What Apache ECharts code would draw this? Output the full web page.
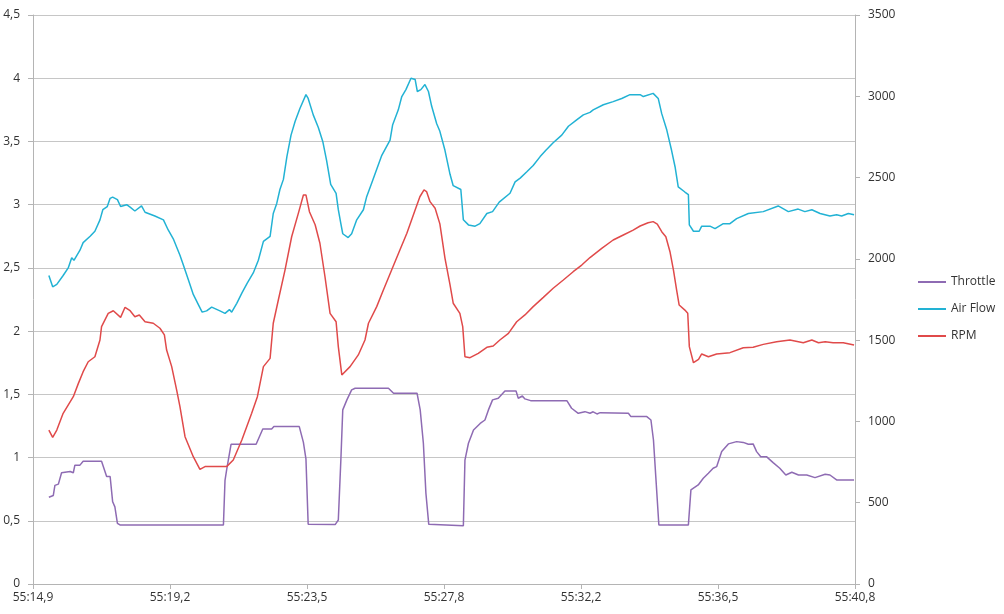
<!DOCTYPE html>
<html>
<head>
<meta charset="utf-8">
<script src="https://cdn.jsdelivr.net/npm/echarts@6/dist/echarts.min.js"></script>
<style>
html,body{margin:0;padding:0;background:#fff;}
#chart{width:1004px;height:614px;}
</style>
</head>
<body>
<div id="chart"></div>
<script>
// ---- data ----
const tickLabels = ['55:14,9','55:19,2','55:23,5','55:27,8','55:32,2','55:36,5','55:40,8'];
const timeStart = 14.9;
const timeEnd = 40.8;
const seriesNames = ['Throttle', 'Air Flow', 'RPM'];

const throttleTime = [15.40,15.44,15.54,15.59,15.70,15.80,16.07,16.12,16.17,16.22,16.38,16.48,17.06,17.22,17.33,17.41,17.48,17.56,17.64,20.90,20.95,21.00,21.14,21.93,22.14,22.42,22.49,23.29,23.42,23.50,23.57,24.42,24.52,24.60,24.66,24.79,24.94,25.05,26.10,26.26,27.00,27.10,27.20,27.28,27.37,28.46,28.51,28.62,28.78,28.99,29.14,29.25,29.38,29.56,29.77,30.12,30.19,30.32,30.40,30.58,31.72,31.87,32.08,32.29,32.45,32.55,32.67,32.77,33.66,33.74,34.24,34.37,34.45,34.53,34.62,35.55,35.63,35.86,36.02,36.18,36.33,36.44,36.60,36.81,37.07,37.28,37.44,37.59,37.70,37.83,38.01,38.22,38.43,38.62,38.81,39.02,39.28,39.54,39.86,40.01,40.22,40.77];
const throttleValues = [0.686,0.70,0.70,0.78,0.79,0.88,0.89,0.90,0.88,0.94,0.94,0.97,0.97,0.85,0.85,0.65,0.61,0.48,0.467,0.467,0.82,0.90,1.105,1.105,1.226,1.226,1.245,1.245,1.12,0.99,0.472,0.47,0.506,0.98,1.377,1.456,1.535,1.548,1.548,1.509,1.509,1.377,1.113,0.718,0.472,0.461,0.98,1.113,1.218,1.27,1.297,1.377,1.456,1.469,1.527,1.527,1.469,1.487,1.464,1.45,1.45,1.39,1.35,1.363,1.35,1.362,1.345,1.355,1.35,1.324,1.324,1.297,1.139,0.823,0.467,0.467,0.744,0.783,0.836,0.876,0.915,0.928,1.047,1.108,1.126,1.12,1.105,1.108,1.047,1.007,1.007,0.96,0.915,0.862,0.884,0.862,0.862,0.841,0.868,0.862,0.823,0.823];

const airFlowTime = [15.40,15.52,15.65,15.85,16.01,16.12,16.19,16.38,16.48,16.70,16.85,17.01,17.10,17.24,17.33,17.41,17.56,17.66,17.85,17.96,18.11,18.32,18.43,18.74,19.01,19.16,19.32,19.53,19.64,19.79,19.95,20.11,20.23,20.37,20.53,20.79,20.95,21.09,21.16,21.32,21.48,21.65,21.84,22.00,22.16,22.37,22.47,22.58,22.68,22.79,22.90,23.03,23.16,23.31,23.50,23.57,23.73,23.89,24.03,24.15,24.28,24.45,24.52,24.60,24.66,24.83,24.94,25.10,25.31,25.41,25.57,25.73,25.89,26.15,26.23,26.41,26.52,26.65,26.81,26.94,27.01,27.12,27.25,27.36,27.46,27.62,27.72,27.88,28.04,28.14,28.38,28.46,28.62,28.83,28.98,29.20,29.38,29.59,29.93,30.09,30.25,30.46,30.66,30.88,31.06,31.29,31.56,31.77,32.03,32.24,32.45,32.55,32.87,33.18,33.45,33.71,34.03,34.13,34.44,34.60,34.71,34.87,35.02,35.13,35.23,35.44,35.55,35.58,35.71,35.89,35.97,36.23,36.39,36.65,36.86,37.07,37.44,37.91,38.38,38.70,39.01,39.22,39.44,39.70,40.01,40.22,40.38,40.59,40.77];
const airFlowValues = [2.44,2.35,2.37,2.44,2.50,2.58,2.56,2.64,2.70,2.75,2.79,2.88,2.96,2.985,3.05,3.06,3.04,2.985,3.00,2.98,2.95,2.99,2.94,2.91,2.88,2.80,2.73,2.60,2.52,2.41,2.29,2.21,2.15,2.16,2.19,2.16,2.14,2.17,2.15,2.22,2.30,2.38,2.46,2.56,2.71,2.75,2.93,3.01,3.12,3.20,3.38,3.55,3.66,3.76,3.87,3.84,3.71,3.61,3.50,3.35,3.16,3.09,2.96,2.85,2.77,2.74,2.77,2.88,2.96,3.06,3.17,3.28,3.39,3.51,3.63,3.75,3.855,3.91,4.00,3.99,3.895,3.91,3.95,3.895,3.78,3.64,3.58,3.43,3.24,3.15,3.12,2.88,2.84,2.83,2.85,2.93,2.945,3.02,3.09,3.18,3.21,3.26,3.31,3.38,3.43,3.49,3.55,3.62,3.67,3.71,3.73,3.75,3.79,3.815,3.84,3.87,3.87,3.855,3.88,3.84,3.72,3.59,3.43,3.30,3.14,3.10,3.08,2.84,2.79,2.79,2.83,2.83,2.81,2.85,2.85,2.89,2.93,2.945,2.99,2.945,2.965,2.945,2.96,2.93,2.91,2.92,2.91,2.93,2.92];

const rpmTime = [15.40,15.52,15.65,15.85,16.17,16.33,16.48,16.64,16.85,17.01,17.06,17.27,17.43,17.66,17.80,17.96,18.11,18.25,18.43,18.69,18.90,19.04,19.11,19.27,19.43,19.53,19.69,19.95,20.16,20.32,21.00,21.21,21.48,21.79,21.97,22.16,22.37,22.47,22.63,22.84,23.05,23.26,23.42,23.50,23.61,23.79,23.94,24.10,24.26,24.45,24.52,24.63,24.89,25.15,25.36,25.47,25.73,25.94,26.20,26.46,26.68,26.94,27.09,27.22,27.30,27.41,27.57,27.72,27.88,28.04,28.14,28.35,28.44,28.51,28.67,28.93,29.20,29.40,29.61,29.88,30.14,30.40,30.66,30.98,31.29,31.61,31.92,32.19,32.45,32.82,33.18,33.50,33.81,34.03,34.28,34.44,34.57,34.71,34.84,34.97,35.08,35.18,35.26,35.44,35.53,35.58,35.71,35.87,35.97,36.18,36.44,36.86,37.28,37.59,37.91,38.33,38.75,39.17,39.44,39.65,39.86,40.11,40.43,40.77];
const rpmValues = [947,902,947,1050,1152,1234,1306,1367,1398,1501,1583,1665,1681,1640,1702,1681,1644,1655,1613,1604,1573,1532,1439,1337,1190,1091,906,783,705,722,722,763,886,1050,1152,1337,1388,1604,1747,1931,2136,2280,2393,2393,2290,2210,2096,1890,1665,1613,1460,1286,1337,1409,1501,1604,1706,1808,1931,2054,2157,2300,2382,2424,2414,2352,2311,2215,2005,1840,1727,1665,1583,1398,1392,1419,1456,1464,1501,1542,1613,1655,1706,1763,1819,1870,1921,1962,2008,2065,2116,2147,2177,2202,2222,2229,2214,2167,2136,2044,1931,1808,1716,1685,1665,1460,1361,1382,1415,1398,1415,1423,1453,1456,1474,1490,1501,1484,1501,1484,1490,1484,1484,1470];

// ---- chart ----
const pairs = (ts, vs) => ts.map((t, i) => [t - timeStart, vs[i]]);
const span = timeEnd - timeStart;
const step = span / (tickLabels.length - 1);
const textColor = '#333333';
const lineGray = '#c6c6c6';
const axisGray = '#b4b4b4';
const font = 'Open Sans';

const chart = echarts.init(document.getElementById('chart'), null, {renderer: 'canvas'});
chart.setOption({
  animation: false,
  backgroundColor: '#ffffff',
  grid: {left: 33, right: 149, top: 15, bottom: 30, containLabel: false},
  legend: {
    orient: 'vertical',
    left: 913,
    top: 271,
    itemWidth: 28,
    itemHeight: 2,
    itemGap: 15,
    icon: 'rect',
    textStyle: {color: textColor, fontFamily: font, fontSize: 12},
    data: seriesNames
  },
  xAxis: {
    type: 'value',
    min: 0,
    max: span,
    interval: step,
    axisLine: {show: true, lineStyle: {color: axisGray, width: 1}},
    axisTick: {show: true, inside: false, length: 5, lineStyle: {color: axisGray}},
    splitLine: {show: false},
    axisLabel: {
      color: textColor, fontFamily: font, fontSize: 12, margin: 8,
      showMinLabel: true, showMaxLabel: true,
      formatter: v => tickLabels[Math.round(v / step)] || ''
    }
  },
  yAxis: [
    {
      type: 'value', min: 0, max: 4.5, interval: 0.5, position: 'left',
      axisLine: {show: true, lineStyle: {color: axisGray, width: 1}},
      axisTick: {show: true, inside: false, length: 5, lineStyle: {color: axisGray}},
      splitLine: {show: true, lineStyle: {color: lineGray, width: 1}},
      axisLabel: {
        color: textColor, fontFamily: font, fontSize: 12, margin: 13,
        formatter: v => String(Math.round(v * 10) / 10).replace('.', ',')
      }
    },
    {
      type: 'value', min: 0, max: 3500, interval: 500, position: 'right',
      axisLine: {show: true, lineStyle: {color: axisGray, width: 1}},
      axisTick: {show: true, inside: false, length: 5, lineStyle: {color: axisGray}},
      splitLine: {show: false},
      axisLabel: {
        color: textColor, fontFamily: font, fontSize: 12, margin: 13,
        formatter: v => String(Math.round(v))
      }
    }
  ],
  series: [
    {
      name: seriesNames[0], type: 'line', yAxisIndex: 0, showSymbol: false, symbol: 'none',
      lineStyle: {color: '#8e6bb3', width: 1.5}, itemStyle: {color: '#8e6bb3'},
      data: pairs(throttleTime, throttleValues)
    },
    {
      name: seriesNames[1], type: 'line', yAxisIndex: 0, showSymbol: false, symbol: 'none',
      lineStyle: {color: '#22b2d4', width: 1.5}, itemStyle: {color: '#22b2d4'},
      data: pairs(airFlowTime, airFlowValues)
    },
    {
      name: seriesNames[2], type: 'line', yAxisIndex: 1, showSymbol: false, symbol: 'none',
      lineStyle: {color: '#e04a4a', width: 1.5}, itemStyle: {color: '#e04a4a'},
      data: pairs(rpmTime, rpmValues)
    }
  ]
});
</script>
</body>
</html>
